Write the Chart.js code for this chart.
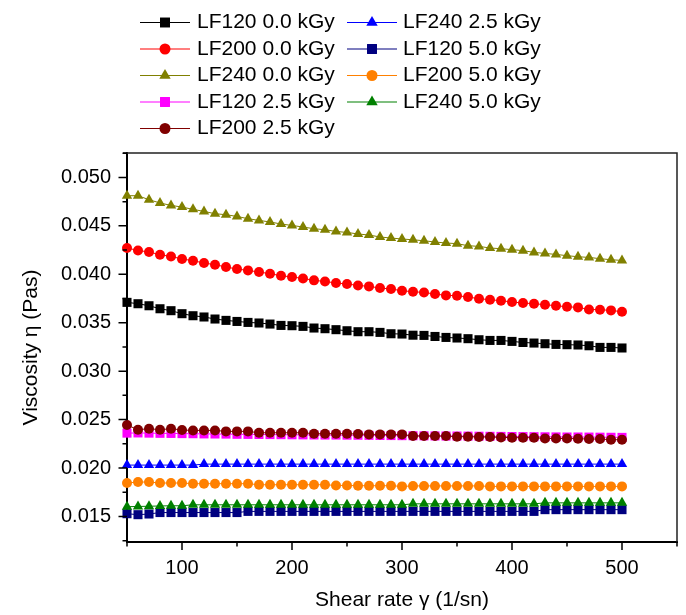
<!DOCTYPE html>
<html>
<head>
<meta charset="utf-8">
<script src="https://cdn.jsdelivr.net/npm/chart.js@4.4.1/dist/chart.umd.min.js"></script>
<style>
  html, body { margin: 0; padding: 0; background: #fff; }
  #wrap { width: 686px; height: 615px; position: relative; }
</style>
</head>
<body>
<div id="wrap"><canvas id="c" width="686" height="615"></canvas></div>
<script>
// ---- data ----
const shearRate = [50,60,70,80,90,100,110,120,130,140,150,160,170,180,190,200,210,220,230,240,250,260,270,280,290,300,310,320,330,340,350,360,370,380,390,400,410,420,430,440,450,460,470,480,490,500];

const seriesLabels = ['LF120 0.0 kGy','LF200 0.0 kGy','LF240 0.0 kGy','LF120 2.5 kGy','LF200 2.5 kGy','LF240 2.5 kGy','LF120 5.0 kGy','LF200 5.0 kGy','LF240 5.0 kGy'];

const lf120_00 = [0.03710,0.03696,0.03675,0.03644,0.03624,0.03593,0.03572,0.03559,0.03538,0.03524,0.03513,0.03503,0.03497,0.03486,0.03472,0.03469,0.03462,0.03445,0.03438,0.03428,0.03417,0.03407,0.03407,0.03400,0.03386,0.03383,0.03371,0.03369,0.03358,0.03348,0.03342,0.03335,0.03324,0.03317,0.03317,0.03307,0.03296,0.03290,0.03283,0.03276,0.03273,0.03270,0.03262,0.03245,0.03245,0.03239];
const lf200_00 = [0.04271,0.04246,0.04230,0.04202,0.04184,0.04158,0.04140,0.04116,0.04099,0.04075,0.04054,0.04040,0.04023,0.04006,0.03985,0.03972,0.03957,0.03937,0.03926,0.03910,0.03900,0.03885,0.03875,0.03858,0.03848,0.03830,0.03820,0.03812,0.03796,0.03782,0.03779,0.03765,0.03748,0.03737,0.03727,0.03714,0.03703,0.03696,0.03686,0.03675,0.03665,0.03658,0.03637,0.03634,0.03627,0.03613];
const lf240_00 = [0.04811,0.04811,0.04770,0.04736,0.04711,0.04694,0.04670,0.04649,0.04625,0.04615,0.04597,0.04574,0.04556,0.04540,0.04519,0.04504,0.04488,0.04470,0.04460,0.04442,0.04432,0.04416,0.04405,0.04385,0.04374,0.04364,0.04356,0.04346,0.04333,0.04323,0.04316,0.04295,0.04288,0.04271,0.04264,0.04254,0.04244,0.04226,0.04215,0.04205,0.04192,0.04181,0.04174,0.04161,0.04150,0.04143];
const lf120_25 = [0.02360,0.02362,0.02360,0.02358,0.02357,0.02355,0.02354,0.02352,0.02351,0.02350,0.02348,0.02347,0.02346,0.02345,0.02344,0.02343,0.02342,0.02341,0.02340,0.02340,0.02339,0.02338,0.02337,0.02336,0.02335,0.02334,0.02333,0.02332,0.02331,0.02330,0.02330,0.02329,0.02328,0.02327,0.02326,0.02325,0.02324,0.02323,0.02322,0.02321,0.02320,0.02320,0.02319,0.02318,0.02317,0.02316];
const lf200_25 = [0.02444,0.02395,0.02406,0.02395,0.02406,0.02392,0.02388,0.02388,0.02388,0.02378,0.02378,0.02378,0.02364,0.02364,0.02364,0.02364,0.02364,0.02354,0.02354,0.02354,0.02354,0.02351,0.02347,0.02347,0.02347,0.02347,0.02330,0.02330,0.02330,0.02330,0.02323,0.02323,0.02320,0.02320,0.02316,0.02313,0.02313,0.02313,0.02305,0.02305,0.02305,0.02302,0.02299,0.02299,0.02292,0.02292];
const lf240_25 = [0.02030,0.02030,0.02030,0.02030,0.02030,0.02030,0.02030,0.02040,0.02040,0.02040,0.02040,0.02040,0.02040,0.02040,0.02040,0.02040,0.02040,0.02040,0.02040,0.02040,0.02040,0.02040,0.02040,0.02040,0.02040,0.02040,0.02040,0.02040,0.02040,0.02040,0.02040,0.02040,0.02040,0.02040,0.02040,0.02040,0.02040,0.02040,0.02040,0.02040,0.02040,0.02040,0.02040,0.02040,0.02040,0.02040];
const lf120_50 = [0.01528,0.01518,0.01525,0.01540,0.01540,0.01540,0.01540,0.01540,0.01540,0.01540,0.01540,0.01552,0.01552,0.01552,0.01552,0.01552,0.01552,0.01552,0.01552,0.01552,0.01552,0.01552,0.01552,0.01552,0.01552,0.01552,0.01552,0.01552,0.01552,0.01552,0.01552,0.01552,0.01552,0.01552,0.01552,0.01552,0.01552,0.01552,0.01570,0.01570,0.01570,0.01570,0.01570,0.01570,0.01570,0.01570];
const lf200_50 = [0.01845,0.01855,0.01855,0.01845,0.01845,0.01845,0.01838,0.01838,0.01838,0.01838,0.01838,0.01838,0.01827,0.01827,0.01827,0.01827,0.01827,0.01827,0.01827,0.01820,0.01820,0.01817,0.01817,0.01817,0.01817,0.01810,0.01815,0.01815,0.01815,0.01815,0.01815,0.01815,0.01815,0.01810,0.01810,0.01810,0.01810,0.01810,0.01810,0.01810,0.01810,0.01810,0.01810,0.01810,0.01810,0.01810];
const lf240_50 = [0.01600,0.01603,0.01605,0.01608,0.01610,0.01610,0.01620,0.01620,0.01620,0.01620,0.01620,0.01620,0.01620,0.01620,0.01620,0.01620,0.01620,0.01620,0.01620,0.01620,0.01620,0.01620,0.01620,0.01620,0.01620,0.01620,0.01630,0.01630,0.01630,0.01630,0.01630,0.01630,0.01630,0.01630,0.01630,0.01630,0.01630,0.01630,0.01640,0.01640,0.01640,0.01640,0.01640,0.01640,0.01640,0.01640];

const xMajorTicks = [100,200,300,400,500];
const xMinorTicks = [50,150,250,350,450,550];
const yMajorTicks = [0.015,0.020,0.025,0.030,0.035,0.040,0.045,0.050];
const yMinorTicks = [0.0125,0.0175,0.0225,0.0275,0.0325,0.0375,0.0425,0.0475,0.0525];

const xTitle = 'Shear rate γ (1/sn)';
const yTitle = 'Viscosity η (Pas)';

// ---- styles ----
const seriesValues = [lf120_00, lf200_00, lf240_00, lf120_25, lf200_25, lf240_25, lf120_50, lf200_50, lf240_50];
const seriesColors = ['#000000','#ff0000','#808000','#ff00ff','#800000','#0000ff','#000080','#ff8000','#008000'];
const seriesShapes = ['rect','circle','triangle','rect','circle','triangle','rect','circle','triangle'];
const shapeRadius = { rect: 6.4, circle: 5, triangle: 6 };
const FONT = '"Liberation Sans", Arial, sans-serif';

const datasets = seriesValues.map((vals, i) => ({
  label: seriesLabels[i],
  data: shearRate.map((x, j) => ({ x: x, y: vals[j] })),
  borderColor: seriesColors[i],
  backgroundColor: seriesColors[i],
  borderWidth: 1,
  pointStyle: seriesShapes[i],
  pointRadius: shapeRadius[seriesShapes[i]],
  pointBorderWidth: 0,
  pointBackgroundColor: seriesColors[i],
  pointBorderColor: seriesColors[i],
  tension: 0,
  clip: false,
  order: -i
}));

function drawMarker(ctx, shape, x, y, r, color) {
  ctx.save();
  ctx.fillStyle = color;
  ctx.beginPath();
  if (shape === 'rect') {
    const s = Math.SQRT1_2 * r;
    ctx.rect(x - s, y - s, 2 * s, 2 * s);
  } else if (shape === 'circle') {
    ctx.arc(x, y, r, 0, Math.PI * 2);
  } else {
    ctx.moveTo(x, y - r);
    ctx.lineTo(x + r * Math.sin(Math.PI / 3), y + r / 2);
    ctx.lineTo(x - r * Math.sin(Math.PI / 3), y + r / 2);
    ctx.closePath();
  }
  ctx.fill();
  ctx.restore();
}

const decorPlugin = {
  id: 'decor',
  afterDraw(chart) {
    const ctx = chart.ctx;
    const a = chart.chartArea;
    const xs = chart.scales.x, ys = chart.scales.y;
    ctx.save();
    // frame top & right
    ctx.strokeStyle = '#222';
    ctx.lineWidth = 1.5;
    ctx.beginPath();
    ctx.moveTo(a.left - 4, a.top);
    ctx.lineTo(a.right, a.top);
    ctx.lineTo(a.right, a.bottom);
    ctx.stroke();
    // tick marks
    ctx.strokeStyle = '#000';
    ctx.lineWidth = 1.5;
    ctx.beginPath();
    xMajorTicks.forEach(v => { const p = xs.getPixelForValue(v); ctx.moveTo(p, a.bottom); ctx.lineTo(p, a.bottom + 8); });
    xMinorTicks.forEach(v => { const p = xs.getPixelForValue(v); ctx.moveTo(p, a.bottom); ctx.lineTo(p, a.bottom + 4.5); });
    yMajorTicks.forEach(v => { const p = ys.getPixelForValue(v); ctx.moveTo(a.left, p); ctx.lineTo(a.left - 8.5, p); });
    yMinorTicks.forEach(v => { const p = ys.getPixelForValue(v); ctx.moveTo(a.left, p); ctx.lineTo(a.left - 4.5, p); });
    ctx.stroke();

    // legend (two columns)
    const rowY0 = 22.5, rowStep = 26.5;
    const cols = [{ x0: 140, x1: 190, tx: 197 }, { x0: 347, x1: 397, tx: 403 }];
    ctx.font = '21px ' + FONT;
    ctx.textBaseline = 'middle';
    ctx.textAlign = 'left';
    chart.data.datasets.forEach((ds, i) => {
      const col = cols[i < 5 ? 0 : 1];
      const row = i < 5 ? i : i - 5;
      const y = rowY0 + row * rowStep;
      ctx.strokeStyle = ds.borderColor;
      ctx.lineWidth = 1.2;
      ctx.beginPath();
      ctx.moveTo(col.x0, y);
      ctx.lineTo(col.x1, y);
      ctx.stroke();
      drawMarker(ctx, ds.pointStyle, (col.x0 + col.x1) / 2, y, ds.pointRadius * 1.1, ds.pointBackgroundColor);
      ctx.fillStyle = '#000';
      ctx.fillText(ds.label, col.tx, y);
    });
    ctx.restore();
  }
};

new Chart(document.getElementById('c'), {
  type: 'line',
  data: { datasets: datasets },
  options: {
    responsive: false,
    animation: false,
    devicePixelRatio: 1,
    layout: { padding: { top: 153, right: 9, left: 0, bottom: 0 } },
    plugins: { legend: { display: false }, tooltip: { enabled: false } },
    scales: {
      x: {
        type: 'linear',
        min: 50, max: 550,
        afterBuildTicks: s => { s.ticks = xMajorTicks.map(v => ({ value: v })); },
        afterFit: s => { s.height = 73; },
        grid: { display: false, drawTicks: true, tickLength: 8 },
        border: { display: true, color: '#000', width: 2 },
        ticks: { color: '#000', font: { family: FONT, size: 20 }, padding: 6, maxRotation: 0, autoSkip: false,
                 callback: v => String(v) },
        title: { display: true, text: xTitle, color: '#000', font: { family: FONT, size: 21 }, padding: { top: 0, bottom: 2 } }
      },
      y: {
        type: 'linear',
        min: 0.01236, max: 0.05252,
        afterBuildTicks: s => { s.ticks = yMajorTicks.map(v => ({ value: v })); },
        afterFit: s => { s.width = 127; },
        grid: { display: false, drawTicks: true, tickLength: 8 },
        border: { display: true, color: '#000', width: 2 },
        ticks: { color: '#000', font: { family: FONT, size: 20 }, padding: 8, autoSkip: false,
                 callback: v => Number(v).toFixed(3) },
        title: { display: true, text: yTitle, color: '#000', font: { family: FONT, size: 21 }, padding: { top: 19, bottom: 0 } }
      }
    }
  },
  plugins: [decorPlugin]
});
</script>
</body>
</html>
